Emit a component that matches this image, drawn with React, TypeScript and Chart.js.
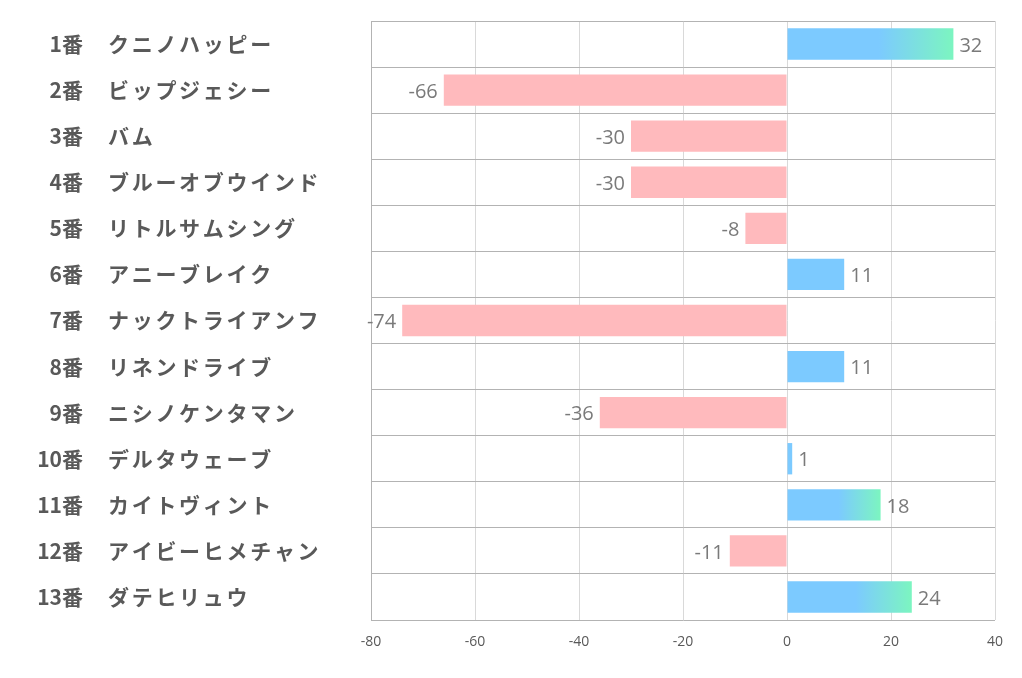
import React, { useEffect, useRef } from "react";
import { Chart, registerables } from "chart.js";

Chart.register(...registerables);

const numbers = ["1番", "2番", "3番", "4番", "5番", "6番", "7番", "8番", "9番", "10番", "11番", "12番", "13番"];
const names = [
  "クニノハッピー",
  "ビップジェシー",
  "バム",
  "ブルーオブウインド",
  "リトルサムシング",
  "アニーブレイク",
  "ナックトライアンフ",
  "リネンドライブ",
  "ニシノケンタマン",
  "デルタウェーブ",
  "カイトヴィント",
  "アイビーヒメチャン",
  "ダテヒリュウ",
];
const values = [32, -66, -30, -30, -8, 11, -74, 11, -36, 1, 18, -11, 24];
const xTicks = [-80, -60, -40, -20, 0, 20, 40];

const BLUE = "#7ccaff";
const GREEN = "#7cf5c0";
const PINK = "#ffbabd";
const LABEL_FONT = '"Noto Sans CJK JP", "Noto Sans", sans-serif';

export default function App() {
  const ref = useRef<HTMLCanvasElement | null>(null);

  useEffect(() => {
    document.body.style.margin = "0";
    const canvas = ref.current!;
    const labelsPlugin = {
      id: "rowLabels",
      afterDraw(chart: any) {
        const ctx = chart.ctx;
        const y = chart.scales.y;
        const x = chart.scales.x;
        ctx.save();
        ctx.textBaseline = "middle";
        ctx.fillStyle = "#595959";
        ctx.font = `bold 21px ${LABEL_FONT}`;
        numbers.forEach((n, i) => {
          const py = y.getPixelForValue(i);
          ctx.letterSpacing = "0px";
          ctx.textAlign = "right";
          ctx.fillText(n, 83, py);
          ctx.letterSpacing = "2.7px";
          ctx.textAlign = "left";
          ctx.fillText(names[i], 108, py);
        });
        ctx.letterSpacing = "0px";
        ctx.font = `20px "Open Sans", "Noto Sans", sans-serif`;
        ctx.fillStyle = "#7a7a7a";
        values.forEach((v, i) => {
          const py = y.getPixelForValue(i) + 2;
          const px = x.getPixelForValue(v);
          if (v >= 0) {
            ctx.textAlign = "left";
            ctx.fillText(String(v), px + 6, py);
          } else {
            ctx.textAlign = "right";
            ctx.fillText(String(v), px - 6, py);
          }
        });
        ctx.restore();
      },
    };

    const chart = new Chart(canvas, {
      type: "bar",
      data: {
        labels: numbers,
        datasets: [
          {
            data: values,
            barPercentage: 0.68,
            categoryPercentage: 1,
            backgroundColor: (c: any) => {
              const v = values[c.dataIndex];
              if (v < 0) return PINK;
              if (v < 15) return BLUE;
              const xs = c.chart.scales.x;
              if (!xs) return BLUE;
              const x0 = xs.getPixelForValue(0);
              const x1 = xs.getPixelForValue(v);
              if (!isFinite(x0) || !isFinite(x1) || x1 <= x0) return BLUE;
              const g = c.chart.ctx.createLinearGradient(x0, 0, x1, 0);
              g.addColorStop(0, BLUE);
              g.addColorStop(0.55, BLUE);
              g.addColorStop(1, GREEN);
              return g;
            },
          },
        ],
      },
      options: {
        indexAxis: "y",
        animation: false,
        responsive: false,
        maintainAspectRatio: false,
        layout: { padding: { left: 371, right: 27, top: 21, bottom: 0 } },
        plugins: { legend: { display: false }, tooltip: { enabled: false } },
        scales: {
          x: {
            min: -80,
            max: 40,
            afterBuildTicks: (s: any) => {
              s.ticks = xTicks.map((v) => ({ value: v }));
            },
            afterFit: (s: any) => {
              s.height = 58;
            },
            grid: { color: "#d9d9d9", drawTicks: false, lineWidth: 1 },
            border: { display: false },
            ticks: {
              padding: 14,
              color: "#595959",
              font: { size: 14, family: '"Open Sans", "Noto Sans", sans-serif' },
            },
          },
          y: {
            afterFit: (s: any) => {
              s.width = 0;
            },
            grid: { offset: true, color: "#b3b3b3", drawTicks: false, lineWidth: 1 },
            border: { display: true, color: "#b3b3b3" },
            ticks: { display: false },
          },
        },
      },
      plugins: [labelsPlugin],
    } as any);
    chart.update();
    return () => chart.destroy();
  }, []);

  return <canvas ref={ref} width={1022} height={678} style={{ display: "block" }} />;
}
